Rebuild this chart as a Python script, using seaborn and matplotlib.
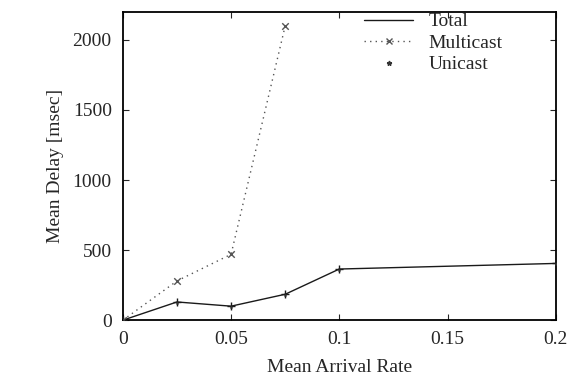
import matplotlib
matplotlib.use("Agg")
import matplotlib.pyplot as plt
import seaborn as sns
import pandas as pd
from matplotlib.lines import Line2D

rate = [0, 0.025, 0.05, 0.075, 0.1, 0.2]
total = [0, 130, 100, 185, 365, 405]
multicast_rate = [0, 0.025, 0.05, 0.075]
multicast = [0, 280, 470, 2100]
unicast_rate = [0, 0.025, 0.05, 0.075, 0.1, 0.2]
unicast = [0, 125, 95, 180, 360, 400]

xticks = [0, 0.05, 0.1, 0.15, 0.2]
xticklabels = ["0", "0.05", "0.1", "0.15", "0.2"]
yticks = [0, 500, 1000, 1500, 2000]

sns.set_style("ticks")
plt.rcParams['font.family'] = ['Liberation Serif', 'DejaVu Serif']
plt.rcParams['xtick.direction'] = 'in'
plt.rcParams['ytick.direction'] = 'in'

df_t = pd.DataFrame({"x": rate, "y": total})
df_m = pd.DataFrame({"x": multicast_rate, "y": multicast})
df_u = pd.DataFrame({"x": unicast_rate, "y": unicast})

fig = plt.figure(figsize=(5.85, 3.83), dpi=100)
ax = fig.add_axes([0.21, 0.164, 0.74, 0.805])

c_t, c_m, c_u = "#1a1a1a", "#555555", "#333333"
sns.lineplot(data=df_t, x="x", y="y", ax=ax, color=c_t, lw=1.0, legend=False)
sns.lineplot(data=df_m, x="x", y="y", ax=ax, color=c_m, lw=1.0,
             dashes=False, legend=False).lines[-1].set_linestyle((0, (1, 3)))
sns.scatterplot(data=df_t, x="x", y="y", ax=ax, marker="+", s=30, color=c_t,
                linewidth=1.0, legend=False, zorder=3)
sns.scatterplot(data=df_m, x="x", y="y", ax=ax, marker="x", s=22, color=c_m,
                linewidth=1.0, legend=False, zorder=3)
sns.scatterplot(data=df_u, x="x", y="y", ax=ax, marker="*", s=10, color=c_u,
                linewidth=0, legend=False, zorder=3)

handles = [
    Line2D([], [], color=c_t, lw=1.0),
    Line2D([], [], color=c_m, lw=1.0, linestyle=(0, (1, 3)), marker="x", markersize=4),
    Line2D([], [], color=c_u, linestyle="none", marker="*", markersize=3.5),
]
ax.legend(handles, ["Total", "Multicast", "Unicast"], loc="upper left",
          bbox_to_anchor=(0.54, 1.022), frameon=False, fontsize=14,
          handlelength=2.5, labelspacing=0.2, handletextpad=0.8, borderaxespad=0.0)

ax.set_xlim(0, 0.2)
ax.set_ylim(0, 2200)
ax.set_xticks(xticks)
ax.set_xticklabels(xticklabels)
ax.set_yticks(yticks)
ax.tick_params(labelsize=14, length=4, width=0.8, top=True, right=True, pad=8)
for s in ax.spines.values():
    s.set_linewidth(1.3)
    s.set_color("black")
ax.set_xlabel("Mean Arrival Rate", fontsize=14, labelpad=8)
ax.set_ylabel("Mean Delay [msec]", fontsize=14, labelpad=6)

fig.savefig("out.png", dpi=100)
